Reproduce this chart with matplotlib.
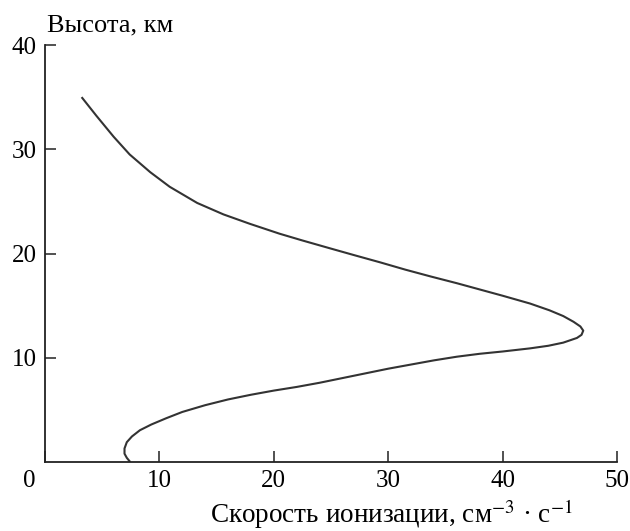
import matplotlib
matplotlib.use("Agg")
import matplotlib.pyplot as plt

plt.rcParams['font.family'] = ['Liberation Serif', 'DejaVu Serif']
plt.rcParams['mathtext.fontset'] = 'stix'

# curve, from the top end (35 km) over the peak down to the ground
rate = [3.2, 4.5, 6.0, 7.4, 9.2, 10.9, 13.3, 15.6, 17.9, 20.5, 22.5, 24.9, 27.0,
        29.3, 31.5, 33.7, 36.0, 38.0, 40.0, 42.4, 44.1, 45.3, 46.2, 46.8, 47.05,
        46.9, 46.5, 45.3, 44.0, 42.4, 40.0, 38.0, 36.0, 34.0, 32.0, 30.0, 28.0,
        26.0, 24.0, 22.0, 20.0, 18.0, 16.0, 14.0, 12.0, 10.6, 9.3, 8.3, 7.6,
        7.15, 6.95, 6.95, 7.15, 7.45]
height = [35.0, 33.2, 31.2, 29.5, 27.8, 26.4, 24.85, 23.75, 22.85, 21.9, 21.25, 20.5, 19.85,
          19.15, 18.45, 17.8, 17.15, 16.55, 15.95, 15.2, 14.55, 14.0, 13.45, 13.0, 12.6,
          12.2, 11.9, 11.45, 11.15, 10.9, 10.6, 10.38, 10.1, 9.75, 9.35, 8.95, 8.5,
          8.05, 7.6, 7.2, 6.85, 6.45, 6.0, 5.45, 4.8, 4.2, 3.6, 3.05, 2.45,
          1.9, 1.3, 0.8, 0.4, 0.0]

x_ticks = [0, 10, 20, 30, 40, 50]
y_ticks = [10, 20, 30, 40]

fig = plt.figure(figsize=(6.3, 5.31), dpi=100)
ax = fig.add_axes([45 / 630, 69 / 531, 572 / 630, 417 / 531])

ax.plot(rate, height, color='#333333', lw=1.5, solid_joinstyle='round',
        solid_capstyle='butt')

ax.set_xlim(0, 50)
ax.set_ylim(0, 40)
ax.spines['top'].set_visible(False)
ax.spines['right'].set_visible(False)
for s in ('left', 'bottom'):
    ax.spines[s].set_linewidth(1.3)
    ax.spines[s].set_color('#222222')

ax.set_xticks(x_ticks)
ax.set_xticklabels([''] + [str(t) for t in x_ticks[1:]])
ax.set_yticks(y_ticks)
ax.tick_params(direction='in', length=8, width=1.1, color='#222222',
               labelsize=18, pad=6)
# shared origin label, set off to the left of the corner
ax.annotate('0', xy=(0, 0), xycoords='data', xytext=(-11, -6),
            textcoords='offset points', fontsize=18, ha='center', va='top')

fig.text(47 / 630, 1 - 31 / 531, 'Высота, км', fontsize=19, ha='left', va='baseline')
fig.text(573 / 630, 1 - 523 / 531, 'Скорость ионизации, см$^{-3}$ · с$^{-1}$',
         fontsize=19.5, ha='right', va='baseline')

fig.savefig('out.png', dpi=100)
